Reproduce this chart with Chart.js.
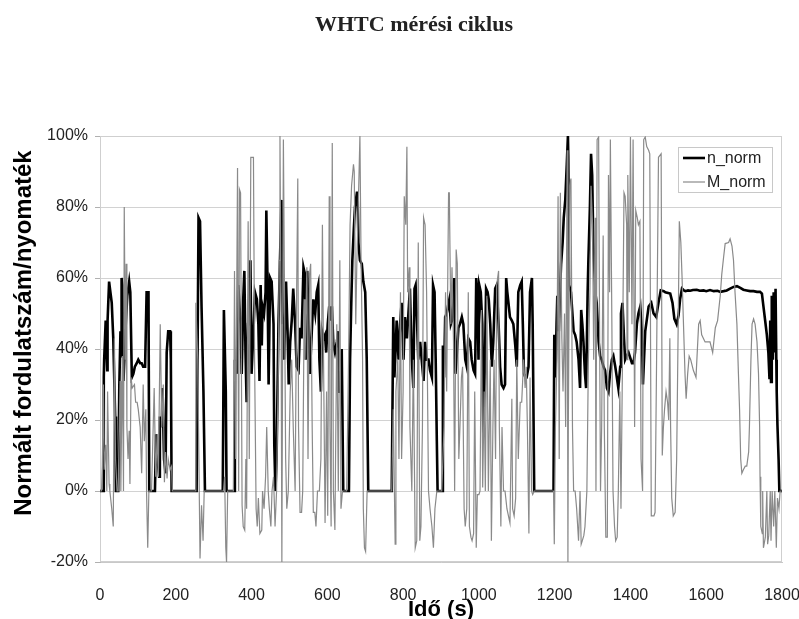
<!DOCTYPE html>
<html>
<head>
<meta charset="utf-8">
<title>WHTC mérési ciklus</title>
<script src="https://cdn.jsdelivr.net/npm/chart.js@4.4.1/dist/chart.umd.min.js"></script>
<style>
  html, body { margin: 0; padding: 0; background: #fff; }
  #wrap { width: 799px; height: 619px; position: relative; }
</style>
</head>
<body>
<div id="wrap"><canvas id="whtc-chart"></canvas></div>
<script>
const chartTitle = 'WHTC mérési ciklus';
const yTitle = 'Normált fordulatszám/nyomaték';
// x axis tick labels (s)
const xTicks = [0, 200, 400, 600, 800, 1000, 1200, 1400, 1600, 1800];
// y axis tick labels (%)
const yTicks = [-20, 0, 20, 40, 60, 80, 100];

// n_norm (time s / value %)
const nTime = [0, 8, 10, 11, 15, 19, 20, 24, 26, 31, 35, 40, 42, 48, 51, 54, 56, 57, 59, 62, 68, 72, 77, 80, 84, 88, 92, 97, 101, 106, 110, 114, 119, 121, 123, 128, 130, 145, 148, 152, 156, 158, 163, 165, 169, 173, 176, 180, 185, 187, 189, 255, 260, 264, 268, 273, 277, 324, 327, 332, 334, 354, 356, 361, 365, 371, 374, 378, 381, 384, 387, 391, 393, 397, 400, 405, 409, 414, 418, 421, 424, 427, 429, 433, 437, 439, 442, 445, 449, 453, 458, 460, 463, 466, 471, 475, 479, 482, 486, 491, 495, 498, 502, 506, 510, 515, 519, 524, 528, 532, 537, 541, 544, 547, 551, 554, 559, 563, 568, 572, 576, 579, 583, 586, 590, 594, 597, 601, 605, 608, 612, 616, 620, 625, 629, 631, 634, 638, 642, 657, 660, 663, 666, 670, 673, 678, 680, 682, 686, 691, 695, 700, 704, 708, 770, 774, 777, 781, 783, 788, 792, 796, 801, 805, 810, 814, 818, 823, 827, 830, 833, 837, 840, 845, 849, 854, 858, 862, 867, 871, 876, 879, 883, 886, 889, 891, 903, 905, 908, 911, 915, 920, 922, 926, 929, 933, 935, 938, 942, 946, 950, 955, 959, 964, 968, 972, 977, 981, 986, 990, 993, 996, 999, 1001, 1005, 1009, 1012, 1016, 1019, 1023, 1026, 1030, 1034, 1038, 1043, 1047, 1052, 1056, 1060, 1065, 1069, 1072, 1075, 1079, 1082, 1087, 1091, 1096, 1100, 1104, 1109, 1113, 1116, 1119, 1123, 1126, 1131, 1135, 1140, 1142, 1146, 1197, 1199, 1202, 1205, 1207, 1211, 1214, 1217, 1221, 1224, 1228, 1232, 1235, 1236, 1238, 1243, 1250, 1254, 1258, 1263, 1267, 1270, 1273, 1276, 1280, 1283, 1287, 1289, 1293, 1296, 1299, 1302, 1307, 1311, 1316, 1320, 1324, 1329, 1333, 1338, 1342, 1346, 1351, 1355, 1360, 1364, 1368, 1373, 1375, 1379, 1383, 1386, 1390, 1395, 1404, 1408, 1412, 1417, 1421, 1426, 1430, 1433, 1439, 1448, 1455, 1461, 1468, 1474, 1480, 1488, 1492, 1505, 1511, 1516, 1522, 1527, 1531, 1536, 1540, 1545, 1552, 1558, 1565, 1575, 1583, 1593, 1600, 1610, 1620, 1630, 1637, 1646, 1654, 1663, 1672, 1681, 1690, 1698, 1707, 1716, 1725, 1734, 1742, 1747, 1751, 1756, 1760, 1764, 1767, 1769, 1771, 1773, 1776, 1778, 1780, 1783, 1785, 1786, 1788, 1791, 1793, 1800];
const nValue = [0, 0, 32, 37, 48, 34, 48, 59, 59, 53, 43, 21, 0, 0, 30, 45, 38, 60, 58, 31, 47, 55, 59, 56, 32, 33, 35, 36, 37, 36, 36, 35, 35, 35, 56, 56, 0, 0, 16, 9, 4, 21, 18, 29, 9, 5, 39, 45, 45, 37, 0, 0, 77, 76, 52, 28, 0, 0, 51, 28, 0, 0, 37, 33, 58, 47, 33, 54, 62, 39, 25, 47, 53, 65, 33, 45, 56, 54, 47, 31, 58, 41, 52, 50, 56, 79, 60, 30, 60, 59, 47, 13, 0, 9, 47, 65, 82, 47, 37, 59, 45, 30, 42, 48, 57, 47, 35, 34, 46, 43, 63, 61, 37, 62, 45, 33, 45, 54, 50, 56, 58, 37, 28, 45, 43, 44, 39, 47, 52, 48, 52, 41, 39, 42, 45, 28, 28, 40, 0, 0, 37, 52, 65, 74, 80, 84, 84, 70, 65, 64, 59, 56, 37, 0, 0, 49, 32, 42, 48, 37, 47, 53, 37, 49, 43, 50, 57, 37, 29, 57, 58, 47, 37, 42, 37, 31, 42, 37, 37, 34, 32, 58, 56, 37, 14, 0, 0, 41, 32, 49, 50, 53, 54, 47, 48, 56, 60, 33, 39, 46, 47, 49, 47, 37, 35, 43, 42, 37, 34, 33, 60, 56, 37, 58, 56, 47, 16, 37, 57, 56, 54, 47, 35, 42, 57, 58, 47, 35, 30, 29, 30, 60, 56, 52, 49, 48, 47, 41, 35, 56, 58, 59, 47, 33, 32, 32, 35, 56, 60, 47, 0, 0, 44, 32, 47, 55, 45, 56, 64, 70, 77, 82, 92, 100, 94, 58, 56, 45, 44, 42, 37, 29, 51, 47, 42, 33, 29, 56, 65, 80, 95, 89, 70, 56, 53, 42, 38, 37, 35, 34, 29, 28, 33, 37, 38, 35, 32, 29, 35, 50, 53, 43, 37, 38, 39, 36, 36, 39, 47, 50, 52, 45, 30, 45, 52, 53, 50, 49, 53, 56.5, 56.3, 56, 55.6, 53, 48.5, 47, 49.5, 54, 57, 56.6, 56.3, 56.5, 56.4, 56.6, 56.7, 56.4, 56.5, 56.3, 56.6, 56.3, 56.4, 56.1, 56.3, 56.5, 57, 57.5, 57.7, 57.2, 56.7, 56.5, 56.3, 56.3, 56.1, 56.1, 55.6, 52, 47.6, 44, 39, 31.5, 48, 30.7, 55, 37, 56, 39, 57, 37, 28, 18.5, 9, 0, 0];

// M_norm (time s / value %)
const mTime = [0, 4, 6, 9, 11, 15, 18, 20, 24, 26, 31, 35, 38, 41, 45, 48, 53, 55, 59, 62, 64, 67, 69, 71, 74, 77, 79, 82, 85, 91, 94, 98, 101, 106, 110, 114, 117, 121, 123, 126, 129, 136, 143, 147, 151, 154, 159, 163, 167, 170, 173, 177, 180, 185, 189, 191, 251, 253, 258, 261, 264, 268, 272, 275, 326, 329, 332, 334, 337, 352, 355, 358, 363, 366, 368, 371, 375, 378, 382, 385, 387, 391, 394, 398, 401, 405, 408, 412, 415, 418, 422, 427, 429, 433, 437, 440, 444, 447, 451, 454, 458, 462, 466, 471, 473, 475, 478, 480, 484, 487, 490, 493, 497, 502, 506, 510, 515, 519, 522, 524, 528, 532, 535, 539, 541, 546, 549, 553, 556, 560, 563, 567, 570, 574, 579, 583, 587, 590, 594, 598, 601, 605, 607, 610, 613, 616, 620, 625, 629, 633, 636, 640, 651, 656, 660, 664, 669, 671, 675, 678, 682, 686, 689, 693, 695, 698, 701, 705, 770, 774, 779, 781, 786, 789, 793, 796, 800, 803, 807, 810, 812, 816, 818, 823, 827, 832, 836, 840, 844, 847, 851, 854, 858, 862, 867, 871, 876, 880, 884, 889, 902, 905, 908, 912, 915, 920, 922, 926, 929, 933, 936, 940, 943, 947, 950, 954, 957, 961, 964, 968, 972, 975, 979, 982, 986, 989, 993, 996, 1000, 1003, 1007, 1010, 1014, 1017, 1021, 1025, 1030, 1033, 1037, 1040, 1044, 1047, 1052, 1054, 1058, 1061, 1065, 1069, 1074, 1078, 1082, 1087, 1089, 1093, 1097, 1100, 1104, 1109, 1113, 1118, 1122, 1125, 1128, 1132, 1135, 1139, 1142, 1146, 1197, 1199, 1202, 1206, 1209, 1212, 1215, 1219, 1222, 1226, 1229, 1233, 1235, 1236, 1240, 1243, 1247, 1250, 1254, 1258, 1263, 1267, 1270, 1273, 1277, 1280, 1285, 1289, 1293, 1296, 1300, 1303, 1307, 1309, 1312, 1316, 1318, 1321, 1324, 1328, 1331, 1335, 1339, 1342, 1345, 1347, 1351, 1354, 1358, 1361, 1365, 1368, 1372, 1375, 1379, 1383, 1386, 1390, 1391, 1393, 1397, 1400, 1404, 1407, 1411, 1414, 1418, 1421, 1425, 1428, 1432, 1435, 1439, 1443, 1448, 1451, 1455, 1458, 1462, 1465, 1469, 1474, 1481, 1484, 1487, 1490, 1494, 1498, 1501, 1504, 1506, 1509, 1513, 1518, 1522, 1527, 1529, 1533, 1536, 1540, 1544, 1547, 1551, 1555, 1559, 1566, 1573, 1580, 1584, 1588, 1597, 1610, 1617, 1624, 1630, 1637, 1641, 1646, 1650, 1659, 1663, 1668, 1672, 1676, 1681, 1685, 1688, 1691, 1694, 1698, 1703, 1707, 1712, 1714, 1718, 1721, 1725, 1729, 1734, 1738, 1741, 1742, 1744, 1748, 1749, 1751, 1756, 1760, 1762, 1765, 1769, 1771, 1774, 1778, 1781, 1785, 1788, 1792, 1795, 1800];
const mValue = [0, 0, 7, 30, 6, 13, 0, 28, 2, 0, -5, -10, 43, 9, 0, 0, 31, 0, 38, 0, 80, 37, 64, 18, 9, 17, 2, 32, 29, 30, 25, 25, 23, 18, 5, 30, 14, 23, -1, -16, 0, 0, 29, 4, 16, 4, 47, 18, 30, 2.5, 11, 3.5, 9, 6, 7, 0, 0, 53, 37, 9, -19, -4, -14, 0, 0, 4, -16, -20, 0, 0, 62, 9, 91, 0, 85, 84, -4, -10, -11, 9, -5, 76, 9, 94, 94, 94, 37, -5, -10, -2, -12, -11, 0, -5, 4, 18, 0, -5, -10, 0, 4, -10, 0, 37, 65, 100, 47, -20, 99, 56, 9, -5, 0, 28, 37, 18, 0, 56, 88, 18, -6, -6, 0, 54, 37, 63, 9, 61, 64, 18, -6, -6, -10, 0, 0, 9, 75, 37, -9, 28, -7, 83, 18, -10, 98, 0, -11, 47, 0, 65, -5, 0, 0, 37, 75, 86, 92, 90, 47, 65, 82, 100, 65, 37, -5, -16, -17, 0, 0, 23, -15, 28, 37, 9, 56, 9, 28, 83, 75, 97, 56, 63, 18, 0, 37, -16, -14, 70, -14, -10, 18, 77, 75, 56, 0, -5, -10, -16, -5, 0, 0, 9, 18, 56, 28, 84, 84, 47, 63, 42, 0, 68, 64, 9, 18, 32, 35, -5, -10, -5, 56, -10, -13, -14, -12, 28, -16, -1, -1, 0, 51, 1, 28, 0, 55, 0, 37, -14, 18, 37, 9, 58, 62, 18, -10, 18, 0, 0, -5, -7, -9, 26, -5, -7, -2, 37, 9, 25, 25, 37, 29, 35, 18, -12, 32, 0, -1, 0, 0, -15, 18, 37, 83, 9, 84, 43, 28, 50, 18, 96, -20, 18, 86, 88, 18, 0, 0, -5, -14, 0, -15, -14, -12.5, -10, 0, 37, 56, 86, 75, 37, 77, 0, 99, 99.7, 56, 0, 18, 72, 18, -13, -13, 89, 56, 99, 47, 0, -10, -14, -13, 0, 28, -5, 37, 84, 83, 75, 37, 89, 56, 99.7, 47, 99, 18, 79, 77, 75, 76, 9, 0, 99, 99.7, 97, 96, 95, -7, -7, -7, -6, 37, 94, 95, 10, 18, 23, 28, 25, 20, 43, 18, -2, -7, -6, 9, 56, 76, 70, 61, 47, 33, 26, 33, 38, 37, 34, 32, 47, 48, 44, 42, 42, 39, 46, 48, 55, 61, 66, 69.7, 70, 71, 69, 65, 56, 47, 33, 23, 9, 5, 6, 7, 7, 11, 18, 37, 47, 48.5, 47, 42, 33, 18, 4, -10, -12, 0, -16, -13, 0, -15, -12.5, 0, -14, 0, -10, 0, -16, -2, -5, 0, 0];

function toPoints(times, values) {
  return times.map((t, i) => ({ x: t, y: values[i] }));
}

// serif chart title and the y axis title, placed like the original
const titles = {
  id: 'titles',
  afterDraw(chart) {
    const ctx = chart.ctx;
    ctx.save();
    ctx.font = 'bold 22px "Liberation Serif", "Times New Roman", serif';
    ctx.fillStyle = '#222';
    ctx.textAlign = 'center';
    ctx.textBaseline = 'middle';
    ctx.fillText(chartTitle, 414, 25);

    ctx.translate(24, 333);
    ctx.rotate(-Math.PI / 2);
    ctx.font = 'bold 24px "Liberation Sans", Arial, sans-serif';
    ctx.fillStyle = '#000';
    ctx.fillText(yTitle, 0, 0);
    ctx.restore();
  }
};

// draws the boxed legend in the top right corner of the plot
const boxLegend = {
  id: 'boxLegend',
  afterDatasetsDraw(chart) {
    const ctx = chart.ctx;
    const area = chart.chartArea;
    const right = area.right - 10;
    const left = right - 94;
    const top = area.top + 11;
    const height = 45;

    ctx.save();
    ctx.fillStyle = '#fff';
    ctx.fillRect(left, top, right - left, height);
    ctx.strokeStyle = '#c8c8c8';
    ctx.lineWidth = 1;
    ctx.strokeRect(left + 0.5, top + 0.5, right - left, height);

    ctx.font = '16px "Liberation Sans", Arial, sans-serif';
    ctx.textBaseline = 'middle';
    chart.data.datasets.forEach((ds, i) => {
      const y = top + 11 + i * 24;
      ctx.strokeStyle = ds.borderColor;
      ctx.lineWidth = ds.borderWidth;
      ctx.beginPath();
      ctx.moveTo(left + 5, y);
      ctx.lineTo(left + 27, y);
      ctx.stroke();
      ctx.fillStyle = '#222';
      ctx.fillText(ds.label, left + 29, y + 1);
    });
    ctx.restore();
  }
};

// thin frame round the plot area
const plotFrame = {
  id: 'plotFrame',
  beforeDatasetsDraw(chart) {
    const { ctx, chartArea } = chart;
    ctx.save();
    ctx.strokeStyle = '#cfcfcf';
    ctx.lineWidth = 1;
    ctx.strokeRect(chartArea.left + 0.5, chartArea.top + 0.5, chartArea.width - 1, chartArea.height - 1);
    ctx.restore();
  }
};

Chart.defaults.font.family = '"Liberation Sans", Arial, sans-serif';
Chart.defaults.color = '#222';

const ctx = document.getElementById('whtc-chart').getContext('2d');
window.myChart = new Chart(ctx, {
  type: 'line',
  data: {
    datasets: [{
      label: 'n_norm',
      data: toPoints(nTime, nValue),
      borderColor: '#000',
      borderWidth: 2.6,
      pointRadius: 0,
      tension: 0,
      order: 2
    }, {
      label: 'M_norm',
      data: toPoints(mTime, mValue),
      borderColor: '#8a8a8a',
      borderWidth: 1.2,
      pointRadius: 0,
      tension: 0,
      order: 1
    }]
  },
  options: {
    responsive: true,
    maintainAspectRatio: false,
    animation: false,
    layout: { padding: { left: 0, right: 17, top: 136, bottom: 0 } },
    plugins: {
      legend: { display: false },
      tooltip: { enabled: false },
      title: { display: false }
    },
    scales: {
      x: {
        type: 'linear',
        min: xTicks[0],
        max: xTicks[xTicks.length - 1],
        afterBuildTicks(scale) {
          scale.ticks = xTicks.map(v => ({ value: v }));
        },
        afterFit(scale) {
          scale.height = 57;
          // the last label may hang past the plot, as in the original
          scale.paddingLeft = 0;
          scale.paddingRight = 0;
        },
        grid: { display: false },
        border: { color: '#c8c8c8' },
        ticks: {
          font: { size: 16 },
          padding: 16,
          maxRotation: 0,
          color: '#222',
          callback: v => String(v)
        },
        title: {
          display: true,
          text: 'Idő (s)',
          color: '#000',
          font: { size: 22, weight: 'bold', lineHeight: 0.8 },
          padding: { top: 0, bottom: 0 }
        }
      },
      y: {
        min: yTicks[0],
        max: yTicks[yTicks.length - 1],
        afterBuildTicks(scale) {
          scale.ticks = yTicks.map(v => ({ value: v }));
        },
        afterFit(scale) { scale.width = 100; },
        grid: { color: '#d2d2d2', tickLength: 5, tickColor: '#b0b0b0' },
        border: { color: '#b8b8b8' },
        ticks: {
          font: { size: 16 },
          padding: 7,
          color: '#222',
          callback: v => v + '%'
        }
      }
    }
  },
  plugins: [plotFrame, boxLegend, titles]
});
</script>
</body>
</html>
